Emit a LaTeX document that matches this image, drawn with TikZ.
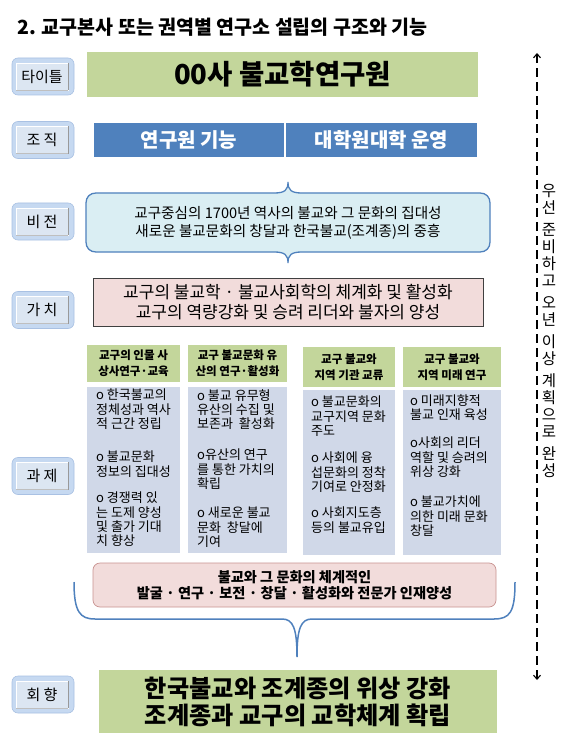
\documentclass[tikz,border=0pt]{standalone}
\usepackage{fontspec}
\setmainfont{Noto Sans CJK KR}
\usetikzlibrary{arrows.meta}
\definecolor{cgreen}{HTML}{C3D69B}
\definecolor{cblue}{HTML}{4F81BD}
\definecolor{cvis}{HTML}{DAEEF3}
\definecolor{cpink}{HTML}{F2DCDB}
\definecolor{cbody}{HTML}{D0D8E8}
\definecolor{clblout}{HTML}{C6D9F1}
\definecolor{clbldraw}{HTML}{A9C1E3}
\definecolor{clblin}{HTML}{DCE6F2}
\definecolor{cpinkdraw}{HTML}{C99391}
\newcommand\mylbl[3]{%
  \node[lblouter] (#1o) at (43,#2) {};
  \node[lblinner] (#1) at (42,#2) {#3};
  \draw[gray!80,line width=1.2pt] (#1.north east) -- (#1.south east);
  \draw[gray!50,line width=0.6pt] (#1.south east) -- (#1.south west);
}
\tikzset{
  lblouter/.style={draw=clbldraw,fill=clblout,rounded corners=6pt,minimum width=62pt,minimum height=37pt,inner sep=0pt,line width=0.6pt},
  lblinner/.style={fill=clblin,draw=white,line width=0.5pt,minimum width=52pt,minimum height=27pt,inner sep=0pt,font=\fontsize{15}{17}\selectfont},
  flatbox/.style={inner sep=0pt,align=center},
  hdr/.style={flatbox,fill=cgreen,font=\bfseries\fontsize{11.5}{16}\selectfont},
  body/.style={inner sep=0pt,fill=cbody},
  btxt/.style={inner sep=0pt,anchor=north west,align=left,font=\fontsize{13}{14.3}\selectfont},
  brace/.style={draw=cblue,line width=1.5pt},
  dasharrow/.style={line width=1.1pt,dash pattern=on 9pt off 5pt,{Straight Barb[length=4pt,width=7pt]}-{Straight Barb[length=4pt,width=7pt]}}
}
\begin{document}
\begin{tikzpicture}[x=1pt,y=-1pt]
\useasboundingbox (0,0) rectangle (567,751);
\fill[white] (0,0) rectangle (567,751);

% heading
\node[anchor=west,inner sep=0pt,font=\bfseries\fontsize{19.5}{22}\selectfont] (heading) at (17,27) {2. 교구본사 또는 권역별 연구소 설립의 구조와 기능};

% left labels
\mylbl{ltitle}{76.5}{타이틀}
\mylbl{lorg}{140}{조 직}
\mylbl{lvis}{221.5}{비 전}
\mylbl{lval}{310}{가 치}
\mylbl{ltask}{476}{과 제}
\mylbl{lgoal}{694.5}{회 향}

% title box
\node[flatbox,fill=cgreen,minimum width=391pt,minimum height=45pt,font=\bfseries\fontsize{27.5}{30}\selectfont] (tbox) at (282.5,74.5) {00사 불교학연구원};

% organisation bars
\node[flatbox,fill=cblue,text=white,minimum width=190pt,minimum height=34pt,font=\bfseries\fontsize{20}{22}\selectfont] (org1) at (189,140) {연구원 기능};
\node[flatbox,fill=cblue,text=white,minimum width=191pt,minimum height=34pt,font=\bfseries\fontsize{20}{22}\selectfont] (org2) at (381.5,140) {대학원대학 운영};

% vision shape
\draw[brace,fill=cvis,line width=1.3pt] (96,193) -- (274,193) .. controls (285,193) and (288,190) .. (288,182) .. controls (288,190) and (291,193) .. (302,193) -- (480,193) .. controls (486,193) and (490,197) .. (490,203) -- (490,242) .. controls (490,248) and (486,252) .. (480,252) -- (302,252) .. controls (291,252) and (288,255) .. (288,263) .. controls (288,255) and (285,252) .. (274,252) -- (96,252) .. controls (90,252) and (86,248) .. (86,242) -- (86,203) .. controls (86,197) and (90,193) .. (96,193) -- cycle;
\node[flatbox,font=\fontsize{14.6}{18}\selectfont] (vis) at (288,223) {교구중심의 1700년 역사의 불교와 그 문화의 집대성\\새로운 불교문화의 창달과 한국불교(조계종)의 중흥};

% value box
\node[flatbox,fill=cpink,draw=black!75,line width=0.7pt,minimum width=390pt,minimum height=48pt,font=\fontsize{17}{19.5}\selectfont] (val) at (288,302) {교구의 불교학 · 불교사회학의 체계화 및 활성화\\교구의 역량강화 및 승려 리더와 불자의 양성};

% column headers
\node[hdr,minimum width=93pt,minimum height=37pt] (h1) at (133.5,363.5) {교구의 인물 사\\상사연구·교육};
\node[hdr,minimum width=99pt,minimum height=37pt] (h2) at (237.5,363.5) {교구 불교문화 유\\산의 연구·활성화};
\node[hdr,minimum width=92pt,minimum height=40pt] (h3) at (349,367) {교구 불교와\\지역 기관 교류};
\node[hdr,minimum width=98pt,minimum height=40pt] (h4) at (452,367) {교구 불교와\\지역 미래 연구};

% column bodies
\node[body,minimum width=93pt,minimum height=166pt] (b1) at (133.5,470) {};
\node[body,minimum width=99pt,minimum height=166pt] (b2) at (237.5,470) {};
\node[body,minimum width=92pt,minimum height=165pt] (b3) at (349,472.5) {};
\node[body,minimum width=98pt,minimum height=165pt] (b4) at (452,472.5) {};

% column texts
\node[btxt] (t11) at (96,389) {o 한국불교의\\정체성과 역사\\적 근간 정립};
\node[btxt] (t12) at (96,451) {o 불교문화\\정보의 집대성};
\node[btxt] (t13) at (96,492) {o 경쟁력 있\\는 도제 양성\\및 출가 기대\\치 향상};

\node[btxt] (t21) at (197,389) {o 불교 유무형\\유산의 수집 및\\보존과\ \ 활성화};
\node[btxt] (t22) at (197,449) {o유산의 연구\\를 통한 가치의\\확립};
\node[btxt] (t23) at (197,507) {o 새로운 불교\\문화\ \ 창달에\\기여};

\node[btxt] (t31) at (311,396) {o 불교문화의\\교구지역 문화\\주도};
\node[btxt] (t32) at (311,452) {o 사회에 융\\섭문화의 정착\\기여로 안정화};
\node[btxt] (t33) at (311,507) {o 사회지도층\\등의 불교유입};

\node[btxt] (t41) at (410,394) {o 미래지향적\\불교 인재 육성};
\node[btxt] (t42) at (410,437) {o사회의 리더\\역할 및 승려의\\위상 강화};
\node[btxt] (t43) at (410,496) {o 불교가치에\\의한 미래 문화\\창달};

% bottom pink box
\node[flatbox,fill=cpink,draw=cpinkdraw,line width=0.7pt,rounded corners=7pt,minimum width=403pt,minimum height=44pt,font=\bfseries\fontsize{14.2}{16.5}\selectfont] (sum) at (294.5,585) {불교와 그 문화의 체계적인\\발굴 · 연구 · 보전 · 창달 · 활성화와 전문가 인재양성};

% big brace
\coordinate (brL) at (74,582);
\coordinate (brR) at (515,582);
\coordinate (brT) at (297,657);
\draw[brace] (brL) .. controls (74,612) and (80,619) .. (95,619) -- (282,619) .. controls (293,619) and (297,628) .. (brT) .. controls (297,628) and (301,619) .. (312,619) -- (494,619) .. controls (510,619) and (515,612) .. (brR);

% bottom green box
\node[flatbox,fill=cgreen,minimum width=398pt,minimum height=63pt,font=\bfseries\fontsize{24.2}{27}\selectfont] (goal) at (298,701.5) {한국불교와 조계종의 위상 강화\\조계종과 교구의 교학체계 확립};

% timeline arrow
\coordinate (atop) at (537,53);
\coordinate (abot) at (537,680);
\draw[dasharrow] (atop) -- (abot);
\node[inner sep=0pt,align=center,font=\fontsize{15.5}{17}\selectfont] (vtxt) at (549,331) {우\\선\\[5pt]준\\비\\하\\고\\[5pt]오\\년\\[5pt]이\\상\\[5pt]계\\획\\으\\로\\[5pt]완\\성};
\end{tikzpicture}
\end{document}
